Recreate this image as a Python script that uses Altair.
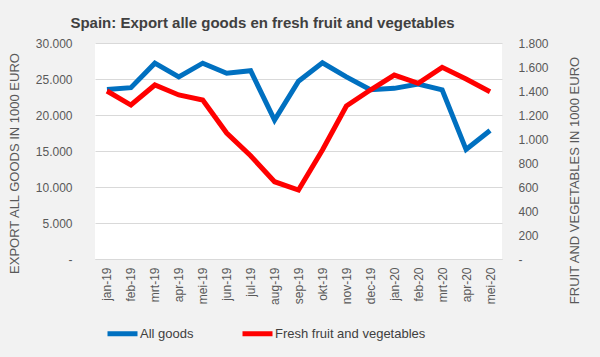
import altair as alt
import pandas as pd

months = ["jan-19", "feb-19", "mrt-19", "apr-19", "mei-19", "jun-19", "jul-19",
          "aug-19", "sep-19", "okt-19", "nov-19", "dec-19", "jan-20", "feb-20",
          "mrt-20", "apr-20", "mei-20"]
all_goods = [23550, 23800, 27200, 25300, 27200, 25800, 26150, 19300, 24700,
             27250, 25300, 23500, 23700, 24300, 23500, 15200, 17850]
fresh_fv = [1400, 1283, 1450, 1367, 1325, 1050, 860, 644, 575,
            908, 1275, 1408, 1533, 1464, 1597, 1500, 1394]
series_names = ["All goods", "Fresh fruit and vegetables"]
series_colors = ["#0070C0", "#FF0000"]

df = pd.DataFrame({
    "month": months * 2,
    "series": [series_names[0]] * len(months) + [series_names[1]] * len(months),
    "value": all_goods + fresh_fv,
})

FONT = "Liberation Sans"
label_expr = "datum.value == 0 ? '-' : replace(format(datum.value, ',.0f'), ',', '.')"

x_enc = alt.X("month:N", sort=months, title=None,
              axis=alt.Axis(labelAngle=-90, labelAlign="right", labelBaseline="middle",
                            labelPadding=8, ticks=False, domainColor="#d9d9d9",
                            labelColor="#595959", labelFontSize=12, grid=False))

color_enc = alt.Color("series:N",
                      scale=alt.Scale(domain=series_names, range=series_colors),
                      legend=alt.Legend(title=None, orient="none", direction="horizontal",
                                        legendX=10, legendY=273, symbolType="stroke",
                                        symbolSize=900, symbolStrokeWidth=5,
                                        labelFontSize=13, labelColor="#404040",
                                        labelOffset=0, columnPadding=38))

left = alt.Chart(df).transform_filter(
    alt.datum.series == series_names[0]
).mark_line(strokeWidth=5).encode(
    x=x_enc,
    y=alt.Y("value:Q", scale=alt.Scale(domain=[0, 30000]),
            title="EXPORT ALL GOODS IN 1000 EURO",
            axis=alt.Axis(values=list(range(0, 30001, 5000)), labelExpr=label_expr,
                          ticks=False, domain=False, labelPadding=23,
                          gridColor="#d9d9d9", labelColor="#595959", labelFontSize=12,
                          titleColor="#595959", titleFontSize=13, titleFontWeight="normal",
                          titlePadding=14, titleY=120)),
    color=color_enc,
)

right = alt.Chart(df).transform_filter(
    alt.datum.series == series_names[1]
).mark_line(strokeWidth=5).encode(
    x=x_enc,
    y=alt.Y("value:Q", scale=alt.Scale(domain=[0, 1800]),
            title="FRUIT AND VEGETABLES IN 1000 EURO",
            axis=alt.Axis(orient="right", values=list(range(0, 1801, 200)),
                          labelExpr=label_expr, ticks=False, domain=False, grid=False,
                          labelPadding=16, labelColor="#595959", labelFontSize=12,
                          titleColor="#595959", titleFontSize=13, titleFontWeight="normal",
                          titleAngle=-90, titleBaseline="top", titlePadding=20,
                          titleY=137)),
    color=color_enc,
)

chart = alt.layer(left, right).resolve_scale(y="independent").properties(
    width=407, height=216,
    padding={"left": 95, "top": 43, "right": 98, "bottom": 98},
    autosize=alt.AutoSizeParams(type="none"),
    background="#f2f2f2",
    title=alt.TitleParams("Spain: Export alle goods en fresh fruit and vegetables",
                          fontSize=15, font=FONT, fontWeight="bold", color="#404040",
                          anchor="middle", dx=-36, offset=6),
).configure(font=FONT).configure_view(fill="white", stroke=None)

chart.save("out.html", embed_options={"renderer": "svg", "actions": False})
